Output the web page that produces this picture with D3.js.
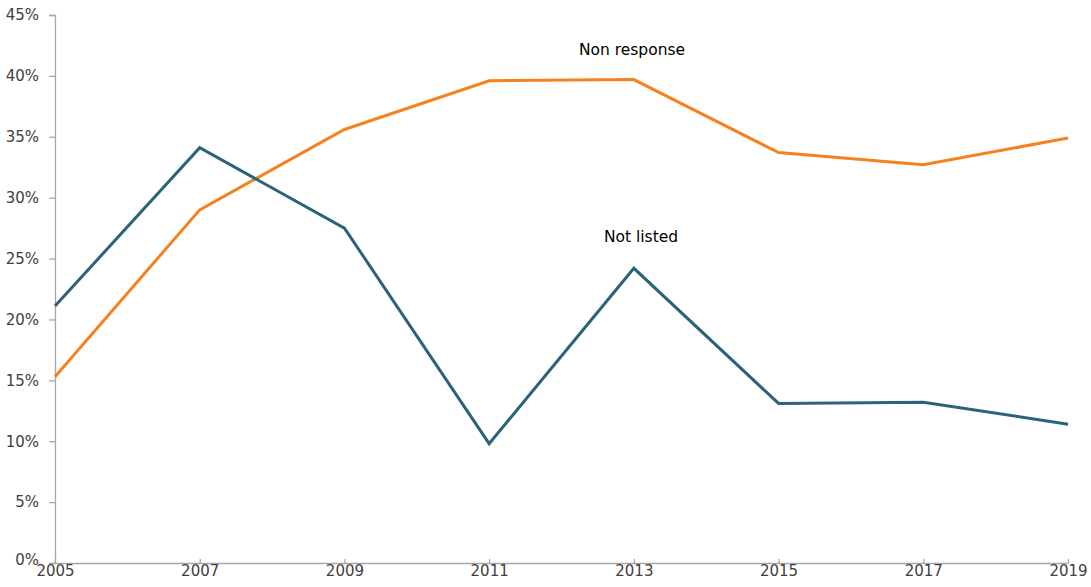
<!DOCTYPE html>
<html>
<head>
<meta charset="utf-8">
<script src="https://cdn.jsdelivr.net/npm/d3@7"></script>
<style>
  body { margin: 0; background: #fff; }
  svg text { font-family: "DejaVu Sans", Verdana, sans-serif; }
</style>
</head>
<body>
<svg class="chart" width="1091" height="587"></svg>
<script>
var years = [2005, 2007, 2009, 2011, 2013, 2015, 2017, 2019];
var nonResponse = [15.3, 29.0, 35.6, 39.6, 39.7, 33.7, 32.7, 34.9];
var notListed = [21.1, 34.1, 27.5, 9.8, 24.2, 13.1, 13.2, 11.4];
var yTicks = [0, 5, 10, 15, 20, 25, 30, 35, 40, 45];

var svg = d3.select(".chart");

var x = d3.scaleLinear().domain([2005, 2019]).range([55, 1068]);
var y = d3.scaleLinear().domain([0, 45]).range([563, 15]);

// y axis
var yAxis = svg.append("g")
  .attr("transform", "translate(55,0)")
  .call(d3.axisLeft(y).tickValues(yTicks).tickSize(6).tickPadding(10)
    .tickFormat(function(d){ return d + "%"; }));
yAxis.selectAll("path, line").attr("stroke", "#a6a6a6").attr("stroke-width", 1.3);
yAxis.selectAll("text").attr("fill", "#404040").style("font-size", "15px");
// 0% sits a bit higher so it clears the year labels
yAxis.selectAll(".tick text").filter(function(d){ return d === 0; }).attr("dy", "0.1em");

// x axis
var xAxis = svg.append("g")
  .attr("transform", "translate(0,563)")
  .call(d3.axisBottom(x).tickValues(years).tickFormat(d3.format("d")).tickSizeInner(-4).tickSizeOuter(0).tickPadding(4));
xAxis.selectAll("path, line").attr("stroke", "#a6a6a6").attr("stroke-width", 1.3);
xAxis.selectAll("text").attr("fill", "#404040").style("font-size", "15px").attr("dy", "0.6em");

var line = d3.line()
  .x(function(d, i){ return x(years[i]); })
  .y(function(d){ return y(d); });

svg.append("path")
  .datum(nonResponse)
  .attr("fill", "none")
  .attr("stroke", "#f5821f")
  .attr("stroke-width", 3)
  .attr("d", line);

svg.append("path")
  .datum(notListed)
  .attr("fill", "none")
  .attr("stroke", "#2b6379")
  .attr("stroke-width", 3)
  .attr("d", line);

svg.append("text")
  .attr("x", 632).attr("y", 55)
  .attr("text-anchor", "middle")
  .style("font-size", "15.5px")
  .attr("fill", "#000")
  .text("Non response");

svg.append("text")
  .attr("x", 641).attr("y", 242)
  .attr("text-anchor", "middle")
  .style("font-size", "15.5px")
  .attr("fill", "#000")
  .text("Not listed");
</script>
</body>
</html>
